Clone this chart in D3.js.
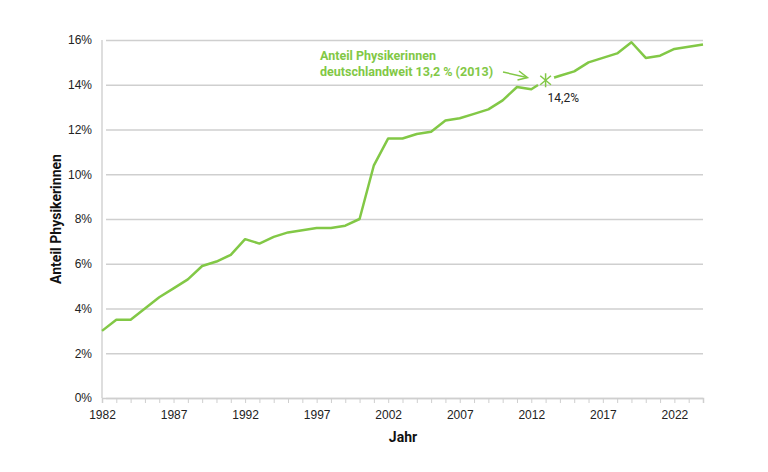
<!DOCTYPE html>
<html>
<head>
<meta charset="utf-8">
<script src="https://cdn.jsdelivr.net/npm/d3@7"></script>
<style>
  body { margin: 0; background: #fff; }
  svg { font-family: Roboto, "Noto Sans", sans-serif; }
</style>
</head>
<body>
<svg id="chart" width="768" height="472"></svg>
<script>
const years = d3.range(1982, 2025);
const shares = [3.0, 3.5, 3.5, 4.0, 4.5, 4.9, 5.3, 5.9, 6.1, 6.4,
                7.1, 6.9, 7.2, 7.4, 7.5, 7.6, 7.6, 7.7, 8.0, 10.4,
                11.6, 11.6, 11.8, 11.9, 12.4, 12.5, 12.7, 12.9, 13.3, 13.9,
                13.8, 14.2, 14.4, 14.6, 15.0, 15.2, 15.4, 15.9, 15.2, 15.3,
                15.6, 15.7, 15.8];
const yTicks = [0, 2, 4, 6, 8, 10, 12, 14, 16];
const xTickLabels = [1982, 1987, 1992, 1997, 2002, 2007, 2012, 2017, 2022];
const markYear = 2013, markValue = 14.2;
const noteLines = ["Anteil Physikerinnen", "deutschlandweit 13,2 % (2013)"];

const green = "#82c846";
const margin = { top: 40, right: 65, bottom: 74, left: 102 };
const width = 768, height = 472;

const svg = d3.select("#chart");

const x = d3.scaleLinear().domain([1982, 2024]).range([margin.left, width - margin.right]);
const y = d3.scaleLinear().domain([0, 16]).range([height - margin.bottom, margin.top]);

// Gridlines + y labels
const yAxis = svg.append("g")
    .attr("transform", `translate(${margin.left},0)`)
    .call(d3.axisLeft(y).tickValues(yTicks).tickFormat(d => d + "%")
        .tickSize(-(width - margin.left - margin.right)).tickPadding(10));
yAxis.select(".domain").remove();
yAxis.selectAll(".tick line")
    .attr("x1", 4)
    .style("stroke", "#cfcfcf").style("stroke-width", 1.5);
yAxis.selectAll(".tick text").style("font-size", "12px").style("fill", "#222");

// left axis line
svg.append("line")
    .attr("x1", x(1982)).attr("x2", x(1982))
    .attr("y1", y(16)).attr("y2", y(0))
    .style("stroke", "#bdbdbd").style("stroke-width", 1);

// X axis
const xAxis = svg.append("g")
    .attr("transform", `translate(0,${y(0)})`)
    .call(d3.axisBottom(x).tickValues(years).tickSize(5).tickPadding(7)
        .tickFormat(d => xTickLabels.includes(d) ? d : ""));
xAxis.select(".domain").style("stroke", "#cfcfcf").style("stroke-width", 1.5);
xAxis.selectAll(".tick line").style("stroke", "#cfcfcf");
xAxis.selectAll(".tick text").style("font-size", "12px").style("fill", "#222");

// Axis titles
svg.append("text")
    .attr("transform", `translate(61,${(y(0) + y(16)) / 2}) rotate(-90)`)
    .attr("text-anchor", "middle")
    .style("font-size", "14px").style("font-weight", "bold").style("fill", "#111")
    .text("Anteil Physikerinnen");

svg.append("text")
    .attr("x", 403).attr("y", 442)
    .attr("text-anchor", "middle")
    .style("font-size", "14px").style("font-weight", "bold").style("fill", "#111")
    .text("Jahr");

// mask to leave a gap around the marker
const mx = x(markYear), my = y(markValue);
const mask = svg.append("defs").append("mask").attr("id", "gap")
    .attr("maskUnits", "userSpaceOnUse")
    .attr("x", 0).attr("y", 0).attr("width", width).attr("height", height);
mask.append("rect").attr("width", width).attr("height", height).attr("fill", "#fff");
mask.append("circle").attr("cx", mx).attr("cy", my).attr("r", 9).attr("fill", "#000");

const line = d3.line().x((d, i) => x(years[i])).y(d => y(d));
svg.append("path")
    .datum(shares)
    .attr("d", line)
    .attr("mask", "url(#gap)")
    .style("fill", "none").style("stroke", green).style("stroke-width", 2.5)
    .style("stroke-linejoin", "round");

// asterisk marker
const star = svg.append("g").attr("transform", `translate(${mx},${my})`);
[90, 40, 140].forEach(a => {
    const r = 7, t = a * Math.PI / 180;
    star.append("line")
        .attr("x1", -r * Math.cos(t)).attr("y1", -r * Math.sin(t))
        .attr("x2", r * Math.cos(t)).attr("y2", r * Math.sin(t))
        .style("stroke", green).style("stroke-width", 1.5);
});

svg.append("text")
    .attr("x", mx + 2).attr("y", my + 22)
    .style("font-size", "12px").style("fill", "#222")
    .text("14,2%");

// annotation
const note = svg.append("text")
    .style("font-size", "12.5px").style("font-weight", "bold").style("fill", green);
noteLines.forEach((t, i) => {
    note.append("tspan").attr("x", 320).attr("y", 60 + i * 16).text(t);
});

// arrow
svg.append("line")
    .attr("x1", 503).attr("y1", 72).attr("x2", 527).attr("y2", 77.5)
    .style("stroke", green).style("stroke-width", 1.5);
svg.append("path")
    .attr("d", "M519,71 L527.5,77.6 L517.5,80")
    .style("fill", "none").style("stroke", green).style("stroke-width", 1.5);
</script>
</body>
</html>
